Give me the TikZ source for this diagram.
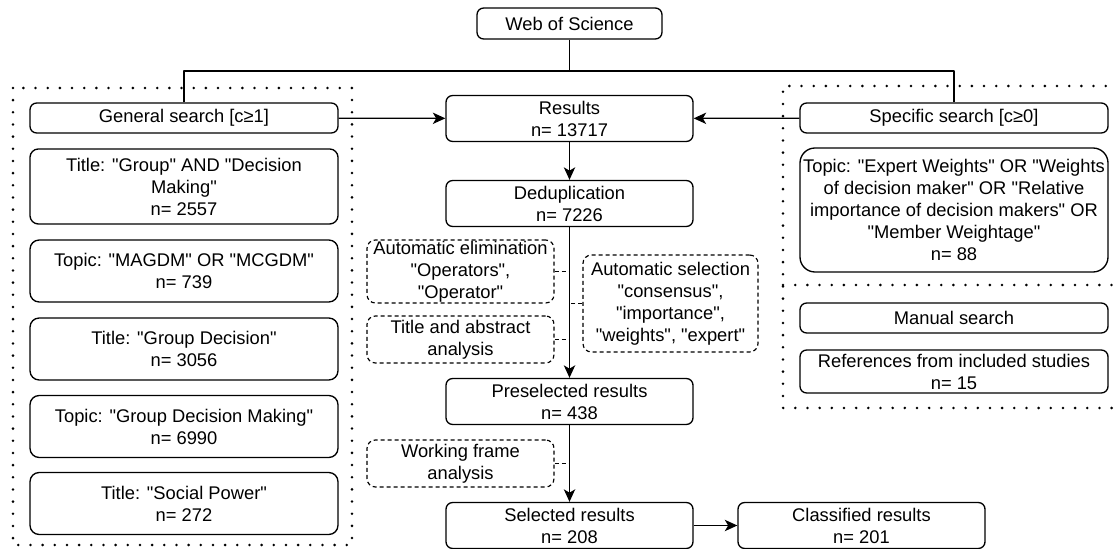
\documentclass[tikz,border=0pt]{standalone}
\usepackage{fontspec}
\newfontfamily\diafont{Liberation Sans}
\usetikzlibrary{arrows.meta}

\begin{document}
\begin{tikzpicture}[line join=round,>={Stealth[length=7.5pt,width=6.8pt,inset=2pt]},x=0.6pt,y=-0.6pt,
  every node/.style={font=\diafont\fontsize{11}{13.2}\selectfont,align=center,inner sep=0pt},
  box/.style={draw,line width=0.8pt,rounded corners=4pt},
  colbox/.style={box,minimum width=184.8pt},
  midbox/.style={box,minimum width=148.2pt,minimum height=27.6pt},
  notebox/.style={draw,line width=0.7pt,dash pattern=on 2.4pt off 1.8pt,rounded corners=5pt,minimum width=112.2pt},
  frame/.style={line width=1.7pt,line cap=round,dash pattern=on 0pt off 7.3pt},
  link/.style={line width=0.8pt},
  note/.style={line width=0.7pt,dash pattern=on 2.4pt off 1.8pt}]
\useasboundingbox (0,0) rectangle (1115,549);
\draw [frame] (13,88) rectangle (352,545);
\draw [frame] (1130,86) -- (783,86) -- (783,408) -- (1130,408);
\draw [frame] (783,285) -- (1130,285);
\node [box,minimum width=111pt,minimum height=18.6pt] (wos) at (569.5,23.5) {Web of Science};
\coordinate (bus) at (569.5,71);
\node [colbox,minimum height=18pt] (general) at (184,118) {General search [c≥1]};
\node [colbox,rounded corners=5pt,minimum height=45pt] (tgdm) at (184,186.5) {Title: "Group" AND "Decision\\Making"\\n= 2557};
\node [colbox,rounded corners=5.5pt,minimum height=37.2pt] (magdm) at (184,271) {Topic: "MAGDM" OR "MCGDM"\\n= 739};
\node [colbox,rounded corners=5.5pt,minimum height=37.2pt] (tgd) at (184,349) {Title: "Group Decision"\\n= 3056};
\node [colbox,rounded corners=5.5pt,minimum height=37.2pt] (topgdm) at (184,426.5) {Topic: "Group Decision Making"\\n= 6990};
\node [colbox,rounded corners=5.5pt,minimum height=37.2pt] (social) at (184,503.5) {Title: "Social Power"\\n= 272};
\node [colbox,minimum height=18pt] (specific) at (954,118) {Specific search [c≥0]};
\node [colbox,rounded corners=9pt,minimum height=74.4pt] (expert) at (954,210) {Topic: "Expert Weights" OR "Weights\\of decision maker" OR "Relative\\importance of decision makers" OR\\"Member Weightage"\\n= 88};
\node [colbox,minimum height=18pt] (manual) at (954,318) {Manual search};
\node [colbox,minimum height=25.8pt] (refs) at (954,371.5) {References from included studies\\n= 15};
\node [midbox] (results) at (569.5,118.5) {Results\\n= 13717};
\node [midbox] (dedup) at (569.5,203.5) {Deduplication\\n= 7226};
\node [midbox] (presel) at (569.5,401.5) {Preselected results\\n= 438};
\node [midbox] (sel) at (569.5,525.5) {Selected results\\n= 208};
\node [midbox] (classif) at (861.5,525.5) {Classified results\\n= 201};
\node [notebox,minimum height=37.8pt] (autoelim) at (460.5,271.5) {Automatic elimination\\"Operators",\\"Operator"};
\node [notebox,minimum height=28.2pt] (titleabs) at (460.5,339.5) {Title and abstract\\analysis};
\node [notebox,minimum height=28.2pt] (workframe) at (460.5,463.5) {Working frame\\analysis};
\node [notebox,minimum width=105pt,minimum height=58.2pt] (autosel) at (670.5,303.5) {Automatic selection\\"consensus",\\"importance",\\"weights", "expert"};
\draw [link] (wos) -- (bus);
\draw [link] (general.north) |- (bus) -| (specific.north);
\draw [link,->] (general) -- (results);
\draw [link,->] (specific) -- (results);
\draw [link,->] (results) -- (dedup);
\draw [link,->] (dedup) -- (presel);
\draw [link,->] (presel) -- (sel);
\draw [link,->] (sel) -- (classif);
\draw [note] (autoelim.east) -- (autoelim.east -| dedup.south);
\draw [note] (titleabs.east) -- (titleabs.east -| dedup.south);
\draw [note] (autosel.west) -- (autosel.west -| dedup.south);
\draw [note] (workframe.east) -- (workframe.east -| presel.south);
\end{tikzpicture}
\end{document}
